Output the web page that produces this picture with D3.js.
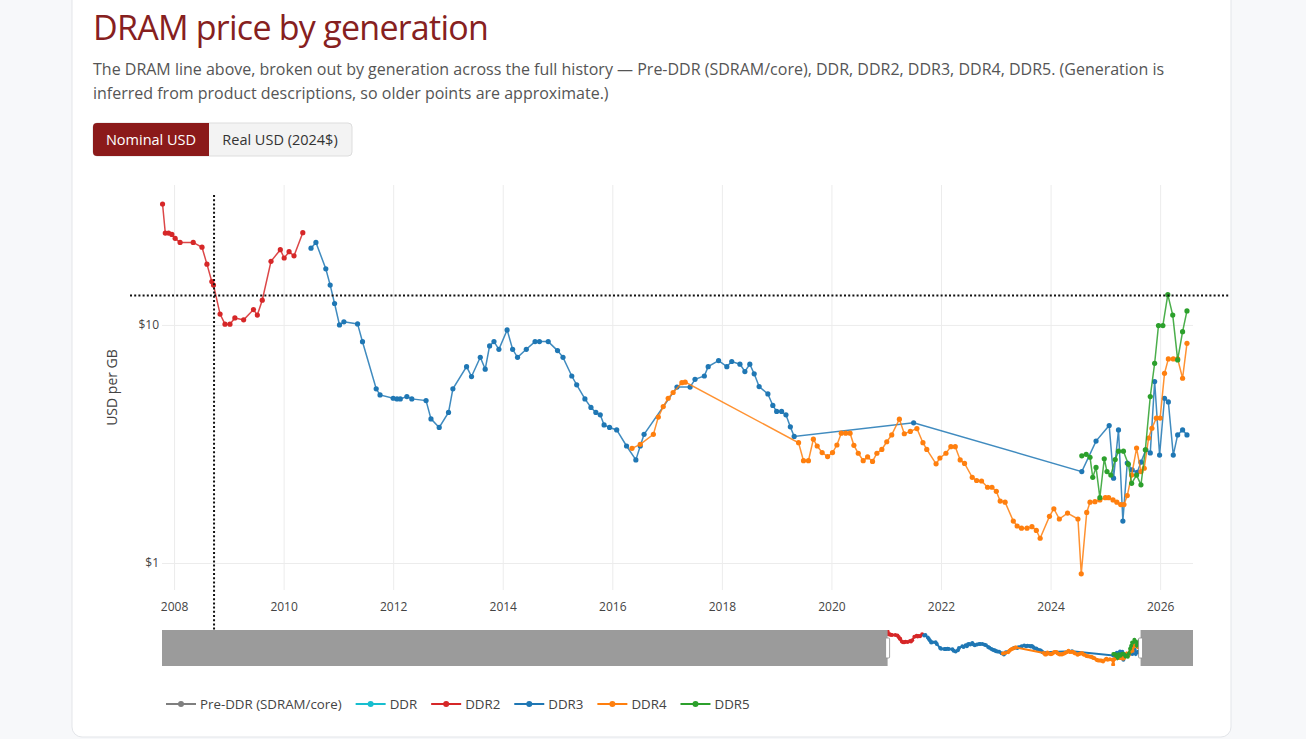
<!DOCTYPE html>
<html>
<head>
<meta charset="utf-8">
<script src="https://cdn.jsdelivr.net/npm/d3@7"></script>
<style>
  body { margin: 0; background: #f7f8fa; }
  svg { display: block; font-family: "Open Sans", sans-serif; }
</style>
</head>
<body>
<div id="chart"></div>
<script>
// ---- data (USD per GB, nominal) ----
// Pre-DDR and DDR fall before the visible window, so nothing to read for them
var preDdrYear = [], preDdrPrice = [];
var ddrYear = [], ddrPrice = [];

var ddr2Year = [2007.79, 2007.84, 2007.90, 2007.96, 2008.02, 2008.11, 2008.35, 2008.51, 2008.60, 2008.69,
  2008.72, 2008.84, 2008.93, 2009.02, 2009.11, 2009.27, 2009.45, 2009.52, 2009.61, 2009.77,
  2009.94, 2010.01, 2010.10, 2010.19, 2010.35];
var ddr2Price = [32.2, 24.3, 24.3, 24.0, 23.1, 22.2, 22.2, 21.2, 18.0, 15.2,
  14.7, 11.1, 10.07, 10.07, 10.7, 10.5, 11.6, 11.0, 12.7, 18.5,
  20.7, 19.1, 20.3, 19.5, 24.4];

var ddr3Year = [2010.50, 2010.59, 2010.77, 2010.85, 2010.93, 2011.02, 2011.10, 2011.35, 2011.44, 2011.69,
  2011.76, 2012.00, 2012.07, 2012.13, 2012.25, 2012.34, 2012.60, 2012.69, 2012.84, 2013.01,
  2013.09, 2013.34, 2013.43, 2013.59, 2013.68, 2013.76, 2013.84, 2013.93, 2014.08, 2014.18,
  2014.27, 2014.43, 2014.59, 2014.67, 2014.83, 2015.00, 2015.10, 2015.26, 2015.35, 2015.50,
  2015.61, 2015.70, 2015.78, 2015.85, 2015.95, 2016.08, 2016.26, 2016.43, 2016.51, 2016.58,
  2017.18, 2017.42, 2017.51, 2017.68, 2017.75, 2017.94, 2018.09, 2018.18, 2018.33, 2018.42,
  2018.51, 2018.59, 2018.68, 2018.84, 2018.93, 2019.00, 2019.09, 2019.17, 2019.25, 2019.32,
  2021.50, 2024.57, 2024.83, 2025.07, 2025.15, 2025.24, 2025.32, 2025.40, 2025.49, 2025.58,
  2025.65, 2025.74, 2025.82, 2025.90, 2025.99, 2026.08, 2026.15, 2026.24, 2026.32, 2026.41,
  2026.49];
var ddr3Price = [21.0, 22.2, 17.2, 14.7, 12.3, 10.0, 10.3, 10.1, 8.5, 5.39,
  5.08, 4.92, 4.89, 4.89, 5.00, 4.89, 4.81, 4.03, 3.71, 4.29,
  5.39, 6.68, 6.07, 7.31, 6.52, 8.16, 8.51, 7.9, 9.53, 7.9,
  7.31, 7.9, 8.51, 8.51, 8.51, 7.8, 7.31, 6.1, 5.6, 4.89,
  4.5, 4.29, 4.19, 3.8, 3.71, 3.62, 3.1, 2.71, 3.1, 3.47,
  5.48, 5.48, 5.91, 6.1, 6.68, 7.08, 6.68, 7.02, 6.84, 6.37,
  6.84, 6.23, 5.51, 5.13, 4.59, 4.33, 4.33, 4.19, 3.73, 3.40,
  3.88, 2.42, 3.25, 3.78, 2.27, 3.62, 1.50, 2.63, 2.46, 2.40,
  2.65, 2.99, 2.90, 5.78, 2.84, 4.92, 4.75, 2.84, 3.45, 3.62,
  3.45];

var ddr4Year = [2016.36, 2016.51, 2016.75, 2016.84, 2016.93, 2017.02, 2017.11, 2017.27, 2017.33, 2019.40,
  2019.49, 2019.58, 2019.67, 2019.74, 2019.83, 2019.93, 2020.02, 2020.10, 2020.18, 2020.26,
  2020.34, 2020.41, 2020.49, 2020.58, 2020.66, 2020.75, 2020.83, 2020.92, 2021.01, 2021.10,
  2021.24, 2021.33, 2021.44, 2021.56, 2021.67, 2021.74, 2021.91, 2021.98, 2022.09, 2022.18,
  2022.26, 2022.35, 2022.43, 2022.57, 2022.65, 2022.74, 2022.85, 2022.93, 2023.01, 2023.08,
  2023.17, 2023.32, 2023.39, 2023.47, 2023.57, 2023.66, 2023.74, 2023.81, 2023.98, 2024.06,
  2024.16, 2024.31, 2024.50, 2024.56, 2024.66, 2024.72, 2024.81, 2024.90, 2025.00, 2025.06,
  2025.14, 2025.21, 2025.28, 2025.34, 2025.40, 2025.48, 2025.57, 2025.65, 2025.71, 2025.79,
  2025.85, 2025.93, 2026.00, 2026.08, 2026.15, 2026.24, 2026.32, 2026.41, 2026.49];
var ddr4Price = [3.03, 3.15, 3.47, 4.1, 4.54, 4.92, 5.2, 5.72, 5.75, 3.2,
  2.69, 2.69, 3.31, 3.1, 2.91, 2.8, 2.91, 3.13, 3.51, 3.51,
  3.51, 3.12, 2.89, 2.69, 2.79, 2.67, 2.89, 3.0, 3.23, 3.45,
  4.02, 3.49, 3.57, 3.67, 3.2, 3.0, 2.61, 2.76, 2.89, 3.08,
  3.08, 2.71, 2.62, 2.29, 2.22, 2.21, 2.08, 2.08, 2.0, 1.82,
  1.8, 1.5, 1.43, 1.4, 1.4, 1.42, 1.37, 1.27, 1.57, 1.69,
  1.53, 1.62, 1.53, 0.90, 1.63, 1.80, 1.81, 1.84, 1.88, 1.88,
  1.84, 1.80, 1.76, 1.76, 1.92, 2.34, 3.04, 2.42, 2.5, 3.35,
  3.68, 4.06, 4.06, 6.26, 7.2, 7.2, 7.2, 5.97, 8.37];

var ddr5Year = [2024.57, 2024.65, 2024.72, 2024.77, 2024.83, 2024.90, 2024.98, 2025.03, 2025.10, 2025.18,
  2025.24, 2025.33, 2025.42, 2025.48, 2025.57, 2025.65, 2025.73, 2025.82, 2025.90, 2025.97,
  2026.05, 2026.14, 2026.23, 2026.32, 2026.41, 2026.49];
var ddr5Price = [2.82, 2.86, 2.78, 2.29, 2.52, 1.88, 2.74, 2.42, 2.34, 2.72,
  2.95, 2.95, 2.6, 2.16, 2.34, 2.13, 2.99, 5.0, 6.9, 9.94,
  9.94, 13.4, 11.0, 7.13, 9.37, 11.45];

var seriesNames = ["Pre-DDR (SDRAM/core)", "DDR", "DDR2", "DDR3", "DDR4", "DDR5"];
var seriesColors = ["#7f7f7f", "#17becf", "#d62728", "#1f77b4", "#ff7f0e", "#2ca02c"];

var xTickYears = [2008, 2010, 2012, 2014, 2016, 2018, 2020, 2022, 2024, 2026];
var yTickValues = [1, 10];

// axis ranges
var xWindow = [2007.78, 2026.6];      // zoomed view
var sliderRange = [1953.8, 2030.5];    // full history in the range slider
var yRange = [0.77, 38.7];

// hover crosshair position
var spikeYear = 2008.73, spikePrice = 13.3;

// ---- drawing ----
var W = 1306, H = 739;
var plot = {left: 162, right: 1193, top: 185, bottom: 590};
var slider = {top: 630, bottom: 666};

var svg = d3.select("#chart").append("svg")
    .attr("width", W)
    .attr("height", H);

svg.append("rect").attr("width", W).attr("height", H).attr("fill", "#f7f8fa");
svg.append("rect")
    .attr("x", 72).attr("y", -12)
    .attr("width", 1159).attr("height", 749)
    .attr("rx", 10)
    .attr("fill", "#fff")
    .attr("stroke", "#e3e5e9");

// heading
svg.append("text")
    .attr("x", 93).attr("y", 40)
    .attr("font-size", 34)
    .attr("letter-spacing", -0.75)
    .attr("fill", "#862020")
    .text("DRAM price by generation");

var sub = svg.append("text")
    .attr("font-size", 16)
    .attr("fill", "#555");
sub.append("tspan").attr("x", 93).attr("y", 75)
    .text("The DRAM line above, broken out by generation across the full history \u2014 Pre-DDR (SDRAM/core), DDR, DDR2, DDR3, DDR4, DDR5. (Generation is");
sub.append("tspan").attr("x", 93).attr("y", 99)
    .text("inferred from product descriptions, so older points are approximate.)");

// toggle buttons
var btn = svg.append("g").attr("transform", "translate(93,123)");
btn.append("rect").attr("width", 259).attr("height", 33).attr("rx", 4)
    .attr("fill", "#f3f3f3").attr("stroke", "#dddddd");
btn.append("rect").attr("width", 116).attr("height", 33).attr("rx", 4).attr("fill", "#8b1a1a");
btn.append("rect").attr("x", 108).attr("width", 8).attr("height", 33).attr("fill", "#8b1a1a");
btn.append("text").attr("x", 58).attr("y", 21.5).attr("text-anchor", "middle")
    .attr("font-size", 14.5).attr("fill", "#fff").text("Nominal USD");
btn.append("text").attr("x", 187).attr("y", 21.5).attr("text-anchor", "middle")
    .attr("font-size", 14.5).attr("fill", "#333").text("Real USD (2024$)");

// scales
var x = d3.scaleLinear().domain(xWindow).range([plot.left, plot.right]);
var y = d3.scaleLog().domain(yRange).range([plot.bottom, plot.top]);

// grid
svg.append("g")
    .attr("transform", "translate(0," + plot.bottom + ")")
    .call(d3.axisBottom(x).tickValues(xTickYears).tickSize(-(plot.bottom - plot.top)).tickFormat(""))
    .call(function(g) { g.select(".domain").remove(); })
    .call(function(g) { g.selectAll("line").attr("stroke", "#ececec"); });
svg.append("g")
    .attr("transform", "translate(" + plot.left + ",0)")
    .call(d3.axisLeft(y).tickValues(yTickValues).tickSize(-(plot.right - plot.left)).tickFormat(""))
    .call(function(g) { g.select(".domain").remove(); })
    .call(function(g) { g.selectAll("line").attr("stroke", "#ececec"); });

// tick labels
svg.append("g")
    .attr("transform", "translate(0," + plot.bottom + ")")
    .call(d3.axisBottom(x).tickValues(xTickYears).tickFormat(d3.format("d")).tickSize(0).tickPadding(12))
    .call(function(g) { g.select(".domain").remove(); })
    .call(function(g) {
      g.selectAll("text").attr("font-family", "Open Sans").attr("font-size", 12).attr("fill", "#444");
    });
svg.append("g")
    .attr("transform", "translate(" + plot.left + ",0)")
    .call(d3.axisLeft(y).tickValues(yTickValues).tickFormat(function(d) { return "$" + d; }).tickSize(0).tickPadding(3))
    .call(function(g) { g.select(".domain").remove(); })
    .call(function(g) {
      g.selectAll("text").attr("font-family", "Open Sans").attr("font-size", 12).attr("fill", "#444");
    });

svg.append("text")
    .attr("transform", "translate(117," + ((plot.top + plot.bottom) / 2) + ") rotate(-90)")
    .attr("text-anchor", "middle")
    .attr("font-size", 14)
    .attr("fill", "#444")
    .text("USD per GB");

// series
var series = [
  {year: preDdrYear, price: preDdrPrice},
  {year: ddrYear, price: ddrPrice},
  {year: ddr2Year, price: ddr2Price},
  {year: ddr3Year, price: ddr3Price},
  {year: ddr4Year, price: ddr4Price},
  {year: ddr5Year, price: ddr5Price}
].map(function(s, i) {
  return {name: seriesNames[i], color: seriesColors[i], points: d3.zip(s.year, s.price)};
});

svg.append("clipPath").attr("id", "plotclip")
  .append("rect")
    .attr("x", plot.left - 4).attr("y", plot.top)
    .attr("width", plot.right - plot.left + 8).attr("height", plot.bottom - plot.top);

var line = d3.line()
    .x(function(d) { return x(d[0]); })
    .y(function(d) { return y(d[1]); });

var main = svg.append("g").attr("clip-path", "url(#plotclip)");
series.forEach(function(s) {
  main.append("path")
      .datum(s.points)
      .attr("fill", "none")
      .attr("stroke", s.color)
      .attr("stroke-opacity", 0.85)
      .attr("stroke-width", 1.5)
      .attr("d", line);
  main.selectAll(null)
      .data(s.points)
      .enter().append("circle")
      .attr("cx", function(d) { return x(d[0]); })
      .attr("cy", function(d) { return y(d[1]); })
      .attr("r", 2.6)
      .attr("fill", s.color);
});

// range slider
var xs = d3.scaleLinear().domain(sliderRange).range([plot.left, plot.right]);
var ys = d3.scaleLog().domain(yRange).range([slider.bottom, slider.top]);

svg.append("clipPath").attr("id", "sliderclip")
  .append("rect")
    .attr("x", plot.left).attr("y", slider.top)
    .attr("width", plot.right - plot.left).attr("height", slider.bottom - slider.top);

svg.append("rect")
    .attr("x", plot.left).attr("y", slider.top)
    .attr("width", plot.right - plot.left).attr("height", slider.bottom - slider.top)
    .attr("fill", "#fff");

var lineS = d3.line()
    .x(function(d) { return xs(d[0]); })
    .y(function(d) { return ys(d[1]); });

var mini = svg.append("g").attr("clip-path", "url(#sliderclip)");
series.forEach(function(s) {
  mini.append("path")
      .datum(s.points)
      .attr("fill", "none")
      .attr("stroke", s.color)
      .attr("stroke-width", 2)
      .attr("d", lineS);
  mini.selectAll(null)
      .data(s.points)
      .enter().append("circle")
      .attr("cx", function(d) { return xs(d[0]); })
      .attr("cy", function(d) { return ys(d[1]); })
      .attr("r", 2)
      .attr("fill", s.color);
});

// masks outside the selected window
svg.append("rect")
    .attr("x", xs(sliderRange[0])).attr("y", slider.top)
    .attr("width", xs(xWindow[0]) - xs(sliderRange[0])).attr("height", slider.bottom - slider.top)
    .attr("fill", "#9b9b9b");
svg.append("rect")
    .attr("x", xs(xWindow[1])).attr("y", slider.top)
    .attr("width", xs(sliderRange[1]) - xs(xWindow[1])).attr("height", slider.bottom - slider.top)
    .attr("fill", "#9b9b9b");
xWindow.forEach(function(v) {
  svg.append("rect")
      .attr("x", xs(v) - 2).attr("y", slider.top + 8)
      .attr("width", 4).attr("height", 20)
      .attr("rx", 1)
      .attr("fill", "#fff")
      .attr("stroke", "#8a8a8a")
      .attr("stroke-width", 0.8);
});

// hover crosshair
svg.append("line")
    .attr("x1", 130).attr("x2", 1230)
    .attr("y1", y(spikePrice)).attr("y2", y(spikePrice))
    .attr("stroke", "#111").attr("stroke-width", 2).attr("stroke-dasharray", "2,2.2");
svg.append("line")
    .attr("x1", x(spikeYear)).attr("x2", x(spikeYear))
    .attr("y1", 195).attr("y2", slider.top)
    .attr("stroke", "#111").attr("stroke-width", 2).attr("stroke-dasharray", "2,2.2");

// legend
var legend = svg.append("g").attr("transform", "translate(166,704)");
var lx = 0;
series.forEach(function(s) {
  var item = legend.append("g").attr("transform", "translate(" + lx + ",0)");
  item.append("line").attr("x1", 0).attr("x2", 30)
      .attr("stroke", s.color).attr("stroke-width", 2);
  item.append("circle").attr("cx", 15).attr("r", 3).attr("fill", s.color);
  var t = item.append("text")
      .attr("x", 34).attr("y", 4.5)
      .attr("font-size", 13.3)
      .attr("fill", "#444")
      .text(s.name);
  lx += 34 + t.node().getComputedTextLength() + 14;
});
</script>
</body>
</html>
